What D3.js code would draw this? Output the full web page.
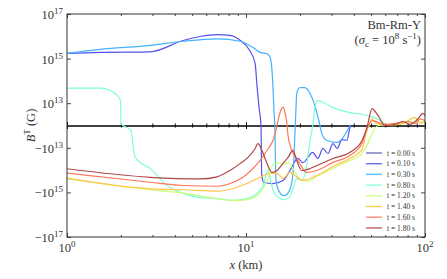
<!DOCTYPE html>
<meta charset="utf-8">
<style>
body { margin: 0; background: #fff; }
text { font-family: "Liberation Serif", "DejaVu Serif", serif; fill: #333; }
.line { fill: none; stroke-width: 1.2; }
</style>
<svg width="447" height="279"></svg>
<script src="https://cdn.jsdelivr.net/npm/d3@7"></script>
<script>

// times and colours of the snapshots
var times = ["0.00", "0.10", "0.30", "0.80", "1.20", "1.40", "1.60", "1.80"];
var colors = ["#5b5bb0", "#5252ee", "#44b2ff", "#7dffd2", "#c8ff78", "#ffc545", "#ff7656", "#b04646"];

// [x (km), B (G)]
var t000 = [];
var t010 = [[1,1.7e15],[1.53,1.9e15],[2.91,2.0e15],[4.45,6.5e15],[5.53,9.8e15],[6.89,1.2e16],[8.14,1.09e16],[9.3,6.5e15],[10.5,2.3e15],[11.25,6e14],[11.54,5e13],[11.83,8e12],[12.13,0],[12.18,-1.3e13],[12.22,-1.04e14],[12.3,-2.1e14],[12.6,-3.6e14],[14.1,-4e14],[16.1,-2.9e14],[17.6,-1.04e14],[19.5,-3.0e13],[20.8,-4.6e13],[23.6,-1.6e13],[25.2,-3.0e13],[26.9,-1.07e13],[28.7,-1.8e13],[30.6,-8.1e12],[32.3,-1.07e13],[34.4,-6.3e12],[36.6,-6.7e12],[38.1,-9e11],[39,0]];
var t030 = [[1,1.7e15],[1.53,2.6e15],[2.91,3.9e15],[4.45,6e15],[6.89,7.7e15],[9.3,6e15],[10.9,3.2e15],[12.0,1.9e15],[13.1,1.65e15],[13.63,1.15e15],[13.97,2.9e14],[14.15,5e13],[14.33,6.7e12],[14.51,-2.2e12],[14.6,-3.7e13],[14.7,-2.9e14],[15.3,-9e14],[16.3,-1.4e15],[17.4,-9e14],[18.1,-2.9e14],[18.5,-3.7e13],[18.8,-2.2e12],[19.0,6.7e12],[19.2,2.7e13],[20.0,5e13],[21.3,5e13],[22.8,2.7e13],[24.3,8.5e12],[25.9,0],[26.5,-3.6e12],[28.3,-6.7e12],[32.3,-7.6e12],[34.8,-5.4e12],[38.1,0]];
var t080 = [[1,4.7e13],[1.53,4.7e13],[1.74,3.7e13],[1.855,2.7e13],[1.952,1.8e13],[1.99,1.3e13],[2.003,9e11],[2.11,-5e11],[2.28,-2.2e12],[2.35,-1.1e13],[2.40,-2.5e13],[2.56,-4.5e13],[2.91,-8.5e13],[3.62,-4.9e14],[4.45,-1.1e15],[5.53,-1.7e15],[6.89,-1.9e15],[8.46,-2.3e15],[10.13,-1.9e15],[11.67,-1e15],[12.45,-4.9e14],[12.93,-1.75e14],[13.27,-9.4e13],[13.63,-2e14],[14.15,-8.2e14],[14.9,-1.5e15],[16.1,-2.1e15],[17.4,-1.7e15],[18.3,-6.7e14],[19.2,-2.4e14],[20.5,-2.9e14],[21.6,-1.04e14],[22.8,-6.7e12],[23.6,0],[24.3,8.5e12],[25.2,1.3e13],[27.6,1e13],[30.6,8e12],[38.1,5.8e12],[47.4,4.5e12],[56.1,2.2e12],[60.5,0]];
var t120 = [[1,-2.5e14],[1.53,-4e14],[2.91,-7.6e14],[4.45,-1.07e15],[6.89,-1.9e15],[8.46,-2.3e15],[10.13,-2.1e15],[11.54,-1.4e15],[12.45,-6.7e14],[13.27,-2.4e14],[14.15,-5.6e13],[15.1,-4.6e13],[16.1,-5.6e13],[17.17,-4.6e13],[18.3,-8.5e13],[20.03,-2.6e14],[21.9,-3.2e14],[24.9,-1.9e14],[30.6,-8.5e13],[38.1,-3.7e13],[43.4,-2.2e13],[47.4,-9e12],[50.6,-3.6e12],[54.6,0],[63.7,5e11],[77.2,9e11],[88,1.8e12],[100,1.3e12]];
var t140 = [[1,-2.3e14],[2.91,-6.9e14],[4.45,-7.6e14],[6.89,-8.8e14],[8.46,-6.7e14],[10.13,-4e14],[12.0,-2.1e14],[13.63,-1.4e14],[14.9,-1.4e14],[16.1,-2.4e14],[17.6,-1.27e14],[19.0,-1.9e14],[20.5,-2.9e14],[24.9,-1.75e14],[30.6,-6.9e13],[38.1,-3e13],[44.5,-1.2e13],[46.8,-3.6e12],[48.7,0],[50.6,3.1e12],[52.6,1.3e12],[63.7,0],[77.2,1.3e12],[88,3.6e12],[94,9e11],[100,2.2e12]];
var t160 = [[1,-1.38e14],[2.91,-3.5e14],[4.45,-4.9e14],[6.89,-5.3e14],[8.14,-4e14],[9.62,-2.1e14],[10.94,-8.5e13],[12.0,-3.7e13],[13.27,-1.1e13],[14.15,-6.7e12],[14.7,-2.2e12],[15.1,2.2e12],[15.6,6.5e12],[16.1,8.2e12],[16.5,6e12],[16.84,2.2e12],[17.17,-4.5e12],[17.84,-1.07e13],[19.0,-2.7e13],[20.3,-6.2e13],[21.6,-1.27e14],[24.9,-1.04e14],[30.6,-4.5e13],[38.1,-2.2e13],[44.5,-8e12],[47.4,-1.3e12],[50.6,2.2e12],[59.8,5e11],[72.5,1.3e12],[80.4,1.8e12],[88,9e11],[94,3e12],[100,2.2e12]];
var t180 = [[1,-8.7e13],[2.91,-2.1e14],[5.53,-2.5e14],[6.89,-2e14],[8.14,-1.04e14],[9.3,-5e13],[10.26,-2.7e13],[11.25,-1.07e13],[11.67,-8.1e12],[12.27,-1.3e13],[13.1,-5e13],[13.97,-1.27e14],[14.9,-1.04e14],[16.1,-5e13],[17.17,-2.7e13],[18.3,-1.3e13],[19.2,-3.7e13],[20.5,-1.04e14],[22.8,-8.5e13],[24.9,-6.2e13],[30.6,-3e13],[38.1,-1.6e13],[44.5,-6.7e12],[47.4,-9e11],[50.6,7.6e12],[54.6,4.5e12],[59.8,0],[68,5e11],[75.4,1.8e12],[82.4,5e11],[91.4,3e12],[97.5,5.4e12],[100,4.5e12]];
var series = [t000, t010, t030, t080, t120, t140, t160, t180];

// ticks
var xMajor = [1, 10, 100];
var xMinor = [2,3,4,5,6,7,8,9,20,30,40,50,60,70,80,90];
var xTickExp = ["0", "1", "2"];
var yTickVals = [1e17, 1e15, 1e13, -1e13, -1e15, -1e17];
var yTickExp = ["17", "15", "13", "13", "15", "17"];

var L = 1e13;   // linear threshold of the symlog axis
function symT(v) {
  var a = Math.abs(v);
  return a <= L ? v / L : Math.sign(v) * (1 + Math.log10(a / L));
}

var svg = d3.select("svg");
var pL = 67, pR = 425, pT = 14, pB = 237;

var x = d3.scaleLog().domain([1, 100]).range([pL, pR]);
var yLin = d3.scaleLinear().domain([-5, 5]).range([pB, pT]);
function y(v) { return yLin(symT(v)); }

svg.append("clipPath").attr("id", "clip").append("rect")
  .attr("x", pL).attr("y", pT).attr("width", pR - pL).attr("height", pB - pT);

// zero line with its ticks
var zg = svg.append("g").attr("transform", "translate(0," + y(0) + ")").attr("color", "#000");
zg.call(d3.axisBottom(x).tickValues(xMajor).tickSize(3.5).tickSizeOuter(0).tickFormat(""));
zg.select(".domain").attr("stroke-width", 1.3);
zg.append("g").call(d3.axisTop(x).tickValues(xMajor).tickSize(3.5).tickFormat("")).select(".domain").remove();
zg.append("g").call(d3.axisBottom(x).tickValues(xMinor).tickSize(2).tickFormat("")).select(".domain").remove();
zg.append("g").call(d3.axisTop(x).tickValues(xMinor).tickSize(2).tickFormat("")).select(".domain").remove();

// curves
var line = d3.line()
  .x(function(d) { return x(d[0]); })
  .y(function(d) { return y(d[1]); })
  .curve(d3.curveMonotoneX);

svg.append("g").attr("clip-path", "url(#clip)")
  .selectAll("path")
  .data(series)
  .enter().append("path")
  .attr("class", "line")
  .attr("stroke", function(d, i) { return colors[i]; })
  .attr("d", function(d) { return d.length ? line(d) : null; });

// frame and inward ticks
function tickAxis(axis, tx, ty) {
  var g = svg.append("g").attr("transform", "translate(" + tx + "," + ty + ")").attr("color", "#333");
  g.call(axis.tickFormat("")).select(".domain").remove();
  g.selectAll(".tick line").attr("stroke-width", 0.9);
}
tickAxis(d3.axisBottom(x).tickValues(xMajor).tickSize(-4), 0, pB);
tickAxis(d3.axisBottom(x).tickValues(xMinor).tickSize(-2), 0, pB);
tickAxis(d3.axisTop(x).tickValues(xMajor).tickSize(-4), 0, pT);
tickAxis(d3.axisTop(x).tickValues(xMinor).tickSize(-2), 0, pT);
tickAxis(d3.axisLeft(yLin).tickValues(yTickVals.map(symT)).tickSize(-4), pL, 0);
tickAxis(d3.axisRight(yLin).tickValues(yTickVals.map(symT)).tickSize(-4), pR, 0);

svg.append("rect")
  .attr("x", pL).attr("y", pT).attr("width", pR - pL).attr("height", pB - pT)
  .attr("fill", "none").attr("stroke", "#333").attr("stroke-width", 1);

// tick labels
xMajor.forEach(function(v, i) {
  var t = svg.append("text").attr("x", x(v)).attr("y", 252)
    .attr("text-anchor", "middle").attr("font-size", 12.5);
  t.append("tspan").text("10");
  t.append("tspan").attr("dy", -5).attr("font-size", 9).text(xTickExp[i]);
});
yTickVals.forEach(function(v, i) {
  var t = svg.append("text").attr("x", 63).attr("y", y(v) + 5)
    .attr("text-anchor", "end").attr("font-size", 12.5);
  t.append("tspan").text((v < 0 ? "\u221210" : "10"));
  t.append("tspan").attr("dy", -5).attr("font-size", 9).text(yTickExp[i]);
});

// axis titles
var xl = svg.append("text").attr("x", (pL + pR) / 2).attr("y", 269)
  .attr("text-anchor", "middle").attr("font-size", 12.5);
xl.append("tspan").attr("font-style", "italic").text("x");
xl.append("tspan").text(" (km)");

var yl = svg.append("text")
  .attr("transform", "translate(35," + ((pT + pB) / 2) + ") rotate(-90)")
  .attr("text-anchor", "middle").attr("font-size", 12.5);
yl.append("tspan").attr("font-style", "italic").text("B");
yl.append("tspan").attr("dy", -5).attr("font-size", 9).text("T");
yl.append("tspan").attr("dy", 5).text(" (G)");

// annotation
svg.append("text").attr("x", 421).attr("y", 29).attr("text-anchor", "end")
  .attr("font-size", 12.5).text("Bm-Rm-Y");
var an = svg.append("text").attr("x", 421).attr("y", 44).attr("text-anchor", "end").attr("font-size", 12.5);
an.append("tspan").text("(");
an.append("tspan").attr("font-style", "italic").text("\u03c3");
an.append("tspan").attr("dy", 2.5).attr("font-size", 9).text("c");
an.append("tspan").attr("dy", -2.5).text(" = 10");
an.append("tspan").attr("dy", -5).attr("font-size", 9).text("8");
an.append("tspan").attr("dy", 5).text(" s");
an.append("tspan").attr("dy", -5).attr("font-size", 9).text("\u22121");
an.append("tspan").attr("dy", 5).text(")");

// legend
var lg = svg.append("g").attr("transform", "translate(366,153)");
times.forEach(function(t, i) {
  var row = lg.append("g").attr("transform", "translate(0," + (i * 10.7) + ")");
  row.append("line").attr("x1", 0).attr("x2", 16).attr("y1", 0).attr("y2", 0)
    .attr("stroke", colors[i]).attr("stroke-width", 1.4).attr("stroke-opacity", 0.85);
  row.append("text").attr("x", 21).attr("y", 2.6).attr("font-size", 7.5).text("t = " + t + " s");
});

</script>
